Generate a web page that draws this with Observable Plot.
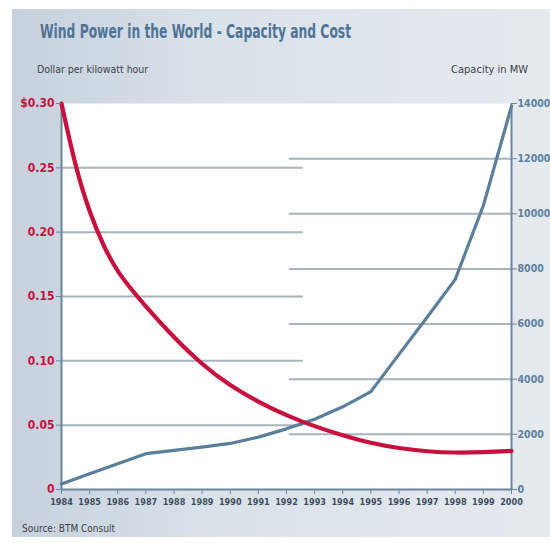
<!DOCTYPE html>
<html><head><meta charset="utf-8">
<script src="https://cdn.jsdelivr.net/npm/d3@7"></script>
<script src="https://cdn.jsdelivr.net/npm/@observablehq/plot@0.6"></script>
<style>
body{margin:0;background:#fff;width:550px;height:543px;position:relative;overflow:hidden;}
.cond{font-family:"Liberation Sans Narrow","DejaVu Sans Condensed","Roboto Condensed",sans-serif;font-stretch:condensed;}
#panel{position:absolute;left:12px;top:9px;width:538px;height:528px;background:linear-gradient(90deg,#c6d1dd 0%,#d9e1e9 35%,#e5eaef 100%);}
#title{position:absolute;left:40px;top:20px;font-size:19px;font-weight:bold;color:#4f7397;transform-origin:0 0;transform:scaleX(0.72);white-space:nowrap;}
#lleft{position:absolute;left:37px;top:63px;font-size:11px;color:#3a3f47;transform-origin:0 0;transform:scaleX(0.95);white-space:nowrap;}
#lright{position:absolute;right:22px;top:63px;font-size:11px;color:#3a3f47;white-space:nowrap;}
#chart{position:absolute;left:0;top:85px;}
#source{position:absolute;left:22px;top:523px;font-size:10px;color:#3a3f47;white-space:nowrap;}
</style></head><body>
<div id="panel"></div>
<div id="title" class="cond">Wind Power in the World - Capacity and Cost</div>
<div id="lleft" class="cond">Dollar per kilowatt hour</div>
<div id="lright" class="cond">Capacity in MW</div>
<div id="chart"></div>
<div id="source" class="cond">Source: BTM Consult</div>
<script>
const years = [1984,1985,1986,1987,1988,1989,1990,1991,1992,1993,1994,1995,1996,1997,1998,1999,2000];
const capacityMW = [200,570,930,1300,1420,1540,1670,1900,2200,2550,3000,3550,4900,6250,7620,10300,13900];
const costYears = [1984,1984.5,1985,1985.5,1986,1987,1988,1989,1990,1991,1992,1993,1994,1995,1996,1997,1998,1999,2000];
const costUSD = [0.300,0.250,0.215,0.189,0.168,0.142,0.118,0.097,0.0805,0.068,0.0575,0.049,0.042,0.036,0.032,0.0295,0.0285,0.029,0.030];
const costTicks = [0,0.05,0.10,0.15,0.20,0.25,0.30];
const capTicks = [0,2000,4000,6000,8000,10000,12000,14000];
const costGrid = [0.05,0.10,0.15,0.20,0.25];
const capGrid = [2000,4000,6000,8000,10000,12000];

const costMax = 0.30, capMax = 14000;
const k = costMax / capMax;
const capRows = years.map((y,i)=>({year:y, cap:capacityMW[i]*k}));
const costRows = costYears.map((y,i)=>({year:y, cost:costUSD[i]}));

const red = "#c8103e", blue = "#5b7f9b", axisC = "#6a869e", gridC = "#a9b3bd";
const font = '"Liberation Sans Narrow","DejaVu Sans Condensed",sans-serif';

const chart = Plot.plot({
  width: 550, height: 458,
  marginLeft: 61, marginRight: 39, marginTop: 18, marginBottom: 54,
  style: {background: "transparent", fontFamily: font, overflow: "visible"},
  x: {domain: [1984, 2000]},
  y: {domain: [0, costMax]},
  marks: [
    Plot.frame({fill: "white", stroke: null}),
    Plot.ruleY(costGrid, {y: d => d, x1: () => 1984, x2: () => 1992.6, stroke: gridC, strokeWidth: 2}),
    Plot.ruleY(capGrid, {y: d => d * k, x1: () => 1992.1, x2: () => 2000, stroke: gridC, strokeWidth: 2}),
    Plot.ruleX([1984, 2000], {stroke: axisC, strokeWidth: 2}),
    Plot.ruleY([0], {stroke: axisC, strokeWidth: 2}),
    Plot.line(capRows, {x: "year", y: "cap", stroke: blue, strokeWidth: 3.2}),
    Plot.line(costRows, {x: "year", y: "cost", stroke: red, strokeWidth: 4.2, curve: "basis"}),
    Plot.axisY({anchor: "left", ticks: costTicks, tickSize: 5, tickPadding: 2,
      tickFormat: d => d === 0 ? "0" : (d === costMax ? "$" + d.toFixed(2) : d.toFixed(2)),
      fill: red, stroke: axisC, fontSize: 12, fontWeight: "bold", label: null}),
    Plot.axisY({anchor: "right", ticks: capTicks.map(c => c * k), tickSize: 5, tickPadding: 1,
      tickFormat: d => String(Math.round(d / k)),
      fill: "#5c80a0", stroke: axisC, fontSize: 10.5, fontWeight: "bold", label: null,
      style: {letterSpacing: "-0.4px"}}),
    Plot.axisX({ticks: years, tickSize: 5, tickPadding: 4, tickFormat: d => String(d),
      fill: "#3f4e5e", stroke: axisC, fontSize: 9, fontWeight: "bold", label: null,
      style: {letterSpacing: "-0.5px"}})
  ]
});
document.getElementById("chart").appendChild(chart);
</script>
</body></html>
